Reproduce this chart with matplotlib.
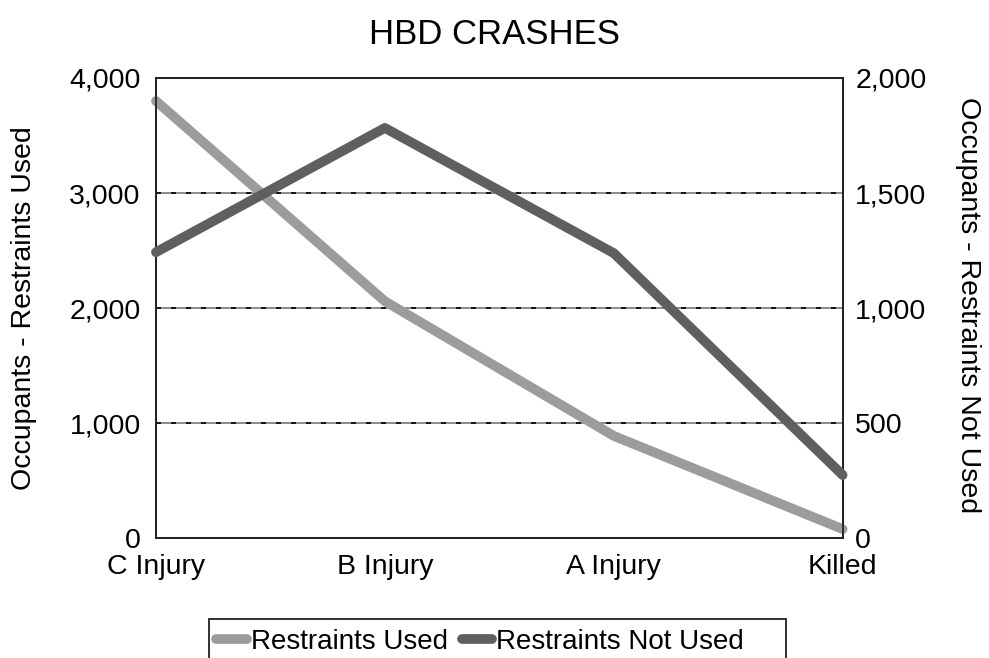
import numpy as np
import matplotlib as mpl
import matplotlib.pyplot as plt
from matplotlib.lines import Line2D
from matplotlib.patches import Rectangle

categories = ["C Injury", "B Injury", "A Injury", "Killed"]
restraints_used = [3800, 2060, 890, 80]        # left axis
restraints_not_used = [1243, 1783, 1239, 275]  # right axis

LIGHT = "#9c9c9c"
DARK = "#5f5f5f"
FS = 20.5

mpl.rcParams.update({
    "font.family": ["Liberation Sans", "DejaVu Sans"],
    "font.size": FS,
})

W, H = 989, 658
fig = plt.figure(figsize=(W / 100, H / 100), dpi=100)
ax = fig.add_axes([0.1577, 0.1819, 0.6943, 0.6996])
ax2 = ax.twinx()

x = np.arange(len(categories))

for y in [1000, 2000, 3000]:
    ax.axhline(y, color="#777777", linewidth=1.2, zorder=0)
    ax.axhline(y, color="black", linewidth=1.2, linestyle=(0, (3, 6)), zorder=0)

ax.plot(x, restraints_used, color=LIGHT, linewidth=7, solid_capstyle="round",
        solid_joinstyle="round", zorder=3, clip_on=False)
ax2.plot(x, restraints_not_used, color=DARK, linewidth=7, solid_capstyle="round",
         solid_joinstyle="round", zorder=3, clip_on=False)

ax.set_xlim(0, len(categories) - 1)
ax.set_ylim(0, 4000)
ax2.set_ylim(0, 2000)
ax.set_xticks(x)
ax.set_xticklabels(categories)
ax.set_yticks([0, 1000, 2000, 3000, 4000])
ax2.set_yticks([0, 500, 1000, 1500, 2000])
ax.yaxis.set_major_formatter(mpl.ticker.StrMethodFormatter("{x:,.0f}"))
ax2.yaxis.set_major_formatter(mpl.ticker.StrMethodFormatter("{x:,.0f}"))
ax.tick_params(axis="y", length=0, pad=11)
ax2.tick_params(axis="y", length=0, pad=9)
ax.tick_params(axis="x", length=0, pad=11)

for a in (ax, ax2):
    for s in a.spines.values():
        s.set_linewidth(1.3)
        s.set_color("#222222")

fig.text(24 / W, 1 - 308 / H, "Occupants - Restraints Used", rotation=90,
         ha="center", va="center")
fig.text(968 / W, 1 - 305 / H, "Occupants - Restraints Not Used", rotation=-90,
         ha="center", va="center")
fig.text(0.5, 1 - 35 / H, "HBD CRASHES", ha="center", va="center", fontsize=25)

handles = [
    Line2D([], [], color=LIGHT, linewidth=7, solid_capstyle="round"),
    Line2D([], [], color=DARK, linewidth=7, solid_capstyle="round"),
]
leg = fig.legend(handles, ["Restraints Used", "Restraints Not Used"],
                 loc="center left", bbox_to_anchor=(216 / W, 1 - 642 / H),
                 ncol=2, frameon=False,
                 handlelength=1.1, handletextpad=0.15, columnspacing=0.5,
                 borderpad=0, borderaxespad=0, fontsize=20)
fig.patches.append(Rectangle((209 / W, -0.05), (786 - 209) / W, 0.05 + (H - 619) / H,
                             transform=fig.transFigure, fill=False,
                             edgecolor="#222222", linewidth=1.3))

fig.savefig("out.png", dpi=100)
